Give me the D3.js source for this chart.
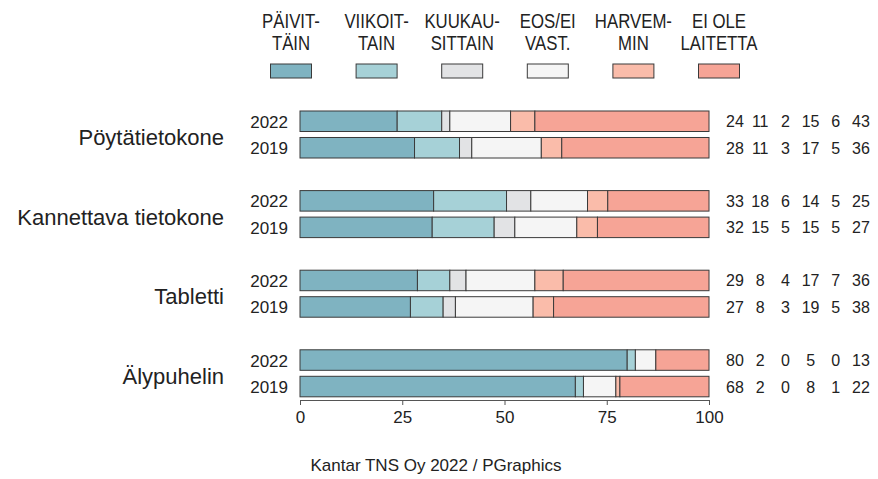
<!DOCTYPE html>
<html>
<head>
<meta charset="utf-8">
<script src="https://cdn.jsdelivr.net/npm/d3@7"></script>
<style>
  body { margin: 0; background: #fff; }
  text { font-family: "Liberation Sans", Arial, sans-serif; fill: #222; }
</style>
</head>
<body>
<script>
const width = 878, height = 479;

// devices and survey years (row order: device x year)
const devices = ['Pöytätietokone', 'Kannettava tietokone', 'Tabletti', 'Älypuhelin'];
const years = ['2022', '2019'];

// answer categories and their legend labels (two lines each)
const keys = ['daily', 'weekly', 'monthly', 'dontKnow', 'lessOften', 'noDevice'];
const legendLabels = [
	['PÄIVIT-', 'TÄIN'],
	['VIIKOIT-', 'TAIN'],
	['KUUKAU-', 'SITTAIN'],
	['EOS/EI', 'VAST.'],
	['HARVEM-', 'MIN'],
	['EI OLE', 'LAITETTA']
];
const colors = ['#7fb3c1', '#a6d1d7', '#e2e3e5', '#f5f5f5', '#fabcaa', '#f6a496'];

// percentages per row
const daily     = [24, 28, 33, 32, 29, 27, 80, 68];
const weekly    = [11, 11, 18, 15,  8,  8,  2,  2];
const monthly   = [ 2,  3,  6,  5,  4,  3,  0,  0];
const dontKnow  = [15, 17, 14, 15, 17, 19,  5,  8];
const lessOften = [ 6,  5,  5,  5,  7,  5,  0,  1];
const noDevice  = [43, 36, 25, 27, 36, 38, 13, 22];

const axisTicks = [0, 25, 50, 75, 100];

const series = { daily, weekly, monthly, dontKnow, lessOften, noDevice };

const rows = [];
devices.forEach((dev, i) => {
	years.forEach((yr, j) => {
		const k = i * years.length + j;
		const row = { device: dev, year: yr };
		keys.forEach(key => row[key] = series[key][k]);
		rows.push(row);
	});
});

// rounded shares don't always sum to 100, so bars are normalised
const stack = d3.stack().keys(keys).offset(d3.stackOffsetExpand);
const stacked = stack(rows);

const x = d3.scaleLinear().domain([0, 100]).range([300, 709]);

const yGroup = d3.scaleBand().domain(devices).range([94.7, 413.1]);
const yYear = d3.scaleBand().domain(years)
	.range([13.3, 66.3])
	.paddingInner(0.226)
	.paddingOuter(0.113);

const rowY = d => yGroup(d.device) + yYear(d.year);
const color = d3.scaleOrdinal().domain(keys).range(colors);

const svg = d3.select('body').append('svg')
	.attr('width', width)
	.attr('height', height);

// bars
const layer = svg.append('g').selectAll('g')
	.data(stacked)
	.join('g')
	.attr('fill', d => color(d.key));

layer.selectAll('rect')
	.data(d => d)
	.join('rect')
	.attr('x', d => x(d[0] * 100))
	.attr('width', d => x(d[1] * 100) - x(d[0] * 100))
	.attr('y', d => rowY(d.data))
	.attr('height', yYear.bandwidth())
	.attr('stroke', '#3a3a3a')
	.attr('stroke-width', 1);

// year labels
svg.append('g').selectAll('text')
	.data(rows)
	.join('text')
	.attr('x', 288)
	.attr('y', d => rowY(d) + yYear.bandwidth() / 2 + 6.5)
	.attr('text-anchor', 'end')
	.style('font-size', '17px')
	.text(d => d.year);

// device labels
svg.append('g').selectAll('text')
	.data(devices)
	.join('text')
	.attr('x', 224)
	.attr('y', d => yGroup(d) + yGroup.bandwidth() / 2 + 10.5)
	.attr('text-anchor', 'end')
	.style('font-size', '22px')
	.text(d => d);

// value labels in columns
const col = d3.scalePoint().domain(keys).range([735, 861]);
const valueRow = svg.append('g').selectAll('g')
	.data(rows)
	.join('g')
	.attr('transform', d => `translate(0,${rowY(d) + yYear.bandwidth() / 2 + 6})`);

valueRow.selectAll('text')
	.data(d => keys.map(k => ({ key: k, value: d[k] })))
	.join('text')
	.attr('x', d => col(d.key))
	.attr('text-anchor', 'middle')
	.style('font-size', '16px')
	.text(d => d.value);

// axis
const axis = svg.append('g')
	.attr('transform', 'translate(0,400)')
	.call(d3.axisBottom(x).tickValues(axisTicks).tickSize(5).tickPadding(6));
axis.select('.domain').attr('stroke', '#555');
axis.selectAll('.tick line').attr('stroke', '#555');
axis.selectAll('.tick text')
	.style('font-size', '17px')
	.style('font-family', '"Liberation Sans", Arial, sans-serif')
	.attr('fill', '#222');

// legend
const lx = d3.scalePoint().domain(keys).range([291, 719]);
const legend = svg.append('g').selectAll('g')
	.data(keys)
	.join('g');

legend.append('rect')
	.attr('x', d => lx(d) - 20.5)
	.attr('y', 64)
	.attr('width', 41)
	.attr('height', 14)
	.attr('fill', d => color(d))
	.attr('stroke', '#3a3a3a');

const legendText = legend.append('g')
	.attr('transform', d => `translate(${lx(d)},0) scale(0.84,1)`)
	.append('text')
	.attr('text-anchor', 'middle')
	.style('font-size', '20px')
	.attr('fill', '#333');

legendText.selectAll('tspan')
	.data((d, i) => legendLabels[i])
	.join('tspan')
	.attr('x', 0)
	.attr('y', (d, i) => i === 0 ? 28 : 50)
	.text(d => d);

// source
svg.append('text')
	.attr('x', 436)
	.attr('y', 471)
	.attr('text-anchor', 'middle')
	.style('font-size', '17px')
	.attr('fill', '#333')
	.text('Kantar TNS Oy 2022 / PGraphics');
</script>
</body>
</html>
